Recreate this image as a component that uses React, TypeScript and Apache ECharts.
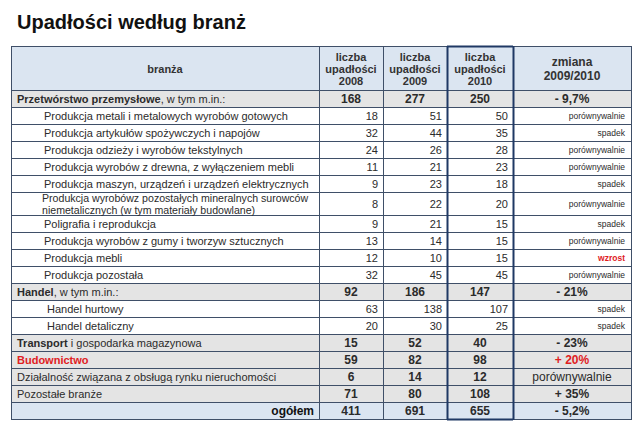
import React, { useEffect, useRef } from "react";
import * as echarts from "echarts";

const title = "Upadłości według branż";
const headers = ["branża", "liczba\nupadłości\n2008", "liczba\nupadłości\n2009", "liczba\nupadłości\n2010", "zmiana\n2009/2010"];

// row kinds: "main" = bold summary row, "sub" = indented sub-row, "total" = ogółem
const kinds = [
  "main", "sub", "sub", "sub", "sub", "sub", "sub2", "sub", "sub", "sub", "sub",
  "main", "sub", "sub", "main", "main", "main", "main", "total",
];
const boldParts = [
  "Przetwórstwo przemysłowe", "", "", "", "", "", "", "", "", "", "",
  "Handel", "", "", "Transport", "Budownictwo", "", "", "ogółem",
];
const normalParts = [
  ", w tym m.in.:",
  "Produkcja metali i metalowych wyrobów gotowych",
  "Produkcja artykułów spożywczych i napojów",
  "Produkcja odzieży i wyrobów tekstylnych",
  "Produkcja wyrobów z drewna, z wyłączeniem mebli",
  "Produkcja maszyn, urządzeń i urządzeń elektrycznych",
  "Produkcja wyrobówz pozostałych mineralnych surowców\nniemetalicznych (w tym materiały budowlane)",
  "Poligrafia i reprodukcja",
  "Produkcja wyrobów z gumy i tworzyw sztucznych",
  "Produkcja mebli",
  "Produkcja pozostała",
  ", w tym m.in.:",
  "Handel hurtowy",
  "Handel detaliczny",
  " i gospodarka magazynowa",
  "",
  "Działalność związana z obsługą rynku nieruchomości",
  "Pozostałe branże",
  "",
];
const v2008 = [168, 18, 32, 24, 11, 9, 8, 9, 13, 12, 32, 92, 63, 20, 15, 59, 6, 71, 411];
const v2009 = [277, 51, 44, 26, 21, 23, 22, 21, 14, 10, 45, 186, 138, 30, 52, 82, 14, 80, 691];
const v2010 = [250, 50, 35, 28, 23, 18, 20, 15, 15, 15, 45, 147, 107, 25, 40, 98, 12, 108, 655];
const zmiana = [
  "- 9,7%", "porównywalnie", "spadek", "porównywalnie", "porównywalnie", "spadek",
  "porównywalnie", "spadek", "porównywalnie", "wzrost", "porównywalnie",
  "- 21%", "spadek", "spadek", "- 23%", "+ 20%", "porównywalnie", "+ 35%", "- 5,2%",
];
const redRows = [9, 15];

export default function App() {
  const ref = useRef<HTMLDivElement>(null);
  useEffect(() => {
    if (!ref.current) return;
    const chart = echarts.init(ref.current, null, { renderer: "svg" });
    const font = "'Liberation Sans', Arial, sans-serif";
    const xs = [11, 319, 383, 447, 513, 631];
    const headTop = 46;
    const headBottom = 90;
    const rowH = 17;
    const rowH2 = 23;
    const lineCol = "#3f4f68";
    const thickCol = "#1f3864";
    const blue = "#dbe5f1";
    const gray = "#e4e4e4";
    const txt = "#2b2b2b";
    const red = "#e0201f";

    const ys: number[] = [headBottom];
    kinds.forEach((k, i) => ys.push(ys[i] + (k === "sub2" ? rowH2 : rowH)));
    const bottom = ys[ys.length - 1];

    const els: any[] = [];
    els.push({
      type: "text", x: 17, y: 22,
      style: { text: title, font: `bold 20px ${font}`, fill: "#111", verticalAlign: "middle" },
    });
    els.push({ type: "rect", shape: { x: xs[0], y: headTop, width: xs[5] - xs[0], height: headBottom - headTop }, style: { fill: blue } });
    kinds.forEach((k, i) => {
      const fill = k === "main" ? gray : k === "total" ? blue : "#fff";
      els.push({ type: "rect", shape: { x: xs[0], y: ys[i], width: xs[5] - xs[0], height: ys[i + 1] - ys[i] }, style: { fill } });
    });
    ys.forEach((y) => {
      els.push({ type: "line", shape: { x1: xs[0], y1: y + 0.5, x2: xs[5], y2: y + 0.5 }, style: { stroke: lineCol, lineWidth: 1 } });
    });
    els.push({ type: "line", shape: { x1: xs[0], y1: headTop + 0.5, x2: xs[5], y2: headTop + 0.5 }, style: { stroke: lineCol, lineWidth: 1 } });
    xs.forEach((x, j) => {
      if (j === 3 || j === 4) return;
      els.push({ type: "line", shape: { x1: x + 0.5, y1: headTop, x2: x + 0.5, y2: bottom + 1 }, style: { stroke: lineCol, lineWidth: 1 } });
    });
    [xs[3], xs[4]].forEach((x) => {
      els.push({ type: "line", shape: { x1: x + 0.5, y1: headTop, x2: x + 0.5, y2: bottom + 1 }, style: { stroke: thickCol, lineWidth: 2 } });
    });
    els.push({ type: "line", shape: { x1: xs[3], y1: headTop + 0.5, x2: xs[4], y2: headTop + 0.5 }, style: { stroke: thickCol, lineWidth: 2 } });
    els.push({ type: "line", shape: { x1: xs[3], y1: bottom + 0.5, x2: xs[4], y2: bottom + 0.5 }, style: { stroke: thickCol, lineWidth: 2 } });

    const hc = (a: number, b: number) => (xs[a] + xs[b]) / 2;
    headers.forEach((h, j) => {
      const isZ = j === 4;
      els.push({
        type: "text", x: hc(j, j + 1), y: (headTop + headBottom) / 2 + 0.5,
        style: {
          text: h, font: `bold ${isZ ? 12 : 11}px ${font}`, fill: "#333",
          align: "center", verticalAlign: "middle", lineHeight: isZ ? 14 : 12,
        },
      });
    });

    kinds.forEach((k, i) => {
      const cy = (ys[i] + ys[i + 1]) / 2 + 0.5;
      const isRed = redRows.includes(i);
      if (k === "main") {
        els.push({
          type: "text", x: 17, y: cy,
          style: {
            text: (boldParts[i] ? `{b|${boldParts[i]}}` : "") + (normalParts[i] ? `{n|${normalParts[i]}}` : ""),
            verticalAlign: "middle",
            rich: {
              b: { font: `bold 11px ${font}`, fill: isRed ? red : txt },
              n: { font: `11px ${font}`, fill: txt },
            },
          },
        });
        [v2008, v2009, v2010].forEach((arr, j) => {
          els.push({
            type: "text", x: hc(j + 1, j + 2), y: cy,
            style: { text: String(arr[i]), font: `bold 12px ${font}`, fill: txt, align: "center", verticalAlign: "middle" },
          });
        });
        const zStr = zmiana[i];
        const isWord = zStr === "porównywalnie";
        els.push({
          type: "text", x: hc(4, 5), y: cy,
          style: {
            text: zStr, font: `${isWord ? "" : "bold "}12px ${font}`, fill: isRed ? red : txt,
            align: "center", verticalAlign: "middle",
          },
        });
      } else if (k === "total") {
        els.push({
          type: "text", x: xs[1] - 5, y: cy,
          style: { text: boldParts[i], font: `bold 12px ${font}`, fill: "#111", align: "right", verticalAlign: "middle" },
        });
        [v2008, v2009, v2010].forEach((arr, j) => {
          els.push({
            type: "text", x: hc(j + 1, j + 2), y: cy,
            style: { text: String(arr[i]), font: `bold 12px ${font}`, fill: txt, align: "center", verticalAlign: "middle" },
          });
        });
        els.push({
          type: "text", x: hc(4, 5), y: cy,
          style: { text: zmiana[i], font: `bold 12px ${font}`, fill: txt, align: "center", verticalAlign: "middle" },
        });
      } else {
        const isHandel = i === 12 || i === 13;
        const isDouble = k === "sub2";
        els.push({
          type: "text", x: isHandel ? 47 : isDouble ? 42 : 44, y: cy,
          style: {
            text: normalParts[i], font: `${isDouble ? 10.6 : 11}px ${font}`, fill: txt, verticalAlign: "middle",
            lineHeight: 12,
          },
        });
        [v2008, v2009, v2010].forEach((arr, j) => {
          els.push({
            type: "text", x: xs[j + 2] - 5, y: cy,
            style: { text: String(arr[i]), font: `11px ${font}`, fill: txt, align: "right", verticalAlign: "middle" },
          });
        });
        els.push({
          type: "text", x: xs[5] - 6, y: cy,
          style: {
            text: zmiana[i], font: `${isRed ? "bold " : ""}8.5px ${font}`, fill: isRed ? red : txt,
            align: "right", verticalAlign: "middle",
          },
        });
      }
    });

    chart.setOption({ animation: false, graphic: { elements: els } });
    return () => chart.dispose();
  }, []);
  return (
    <div
      ref={ref}
      style={{ position: "fixed", left: 0, top: 0, width: 640, height: 425, background: "#fff" }}
    />
  );
}
